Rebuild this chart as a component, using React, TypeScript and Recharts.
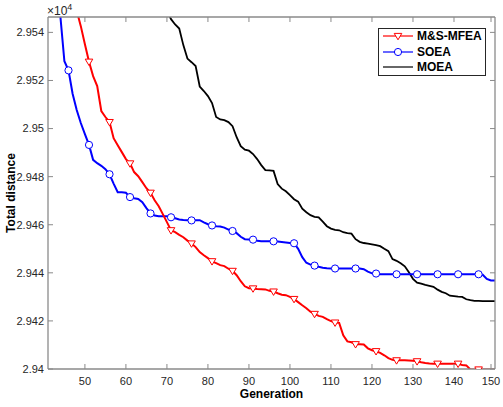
import React from 'react';
import { LineChart, Line, XAxis, YAxis, Legend } from 'recharts';

// generations on x, total distance on y (raw units, axis shows them /1e4)
const redStart = 47;
const redValues = [
  29556, 29549, 29542.6, 29535.1, 29527.8, 29521.8, 29517.7, 29507.3, 29504.8, 29502.7,
  29496, 29493.1, 29490.2, 29487.3, 29485.5, 29481.9, 29480.2, 29477.7, 29475.2, 29473.3,
  29470.2, 29467.7, 29464.4, 29461.1, 29457.7, 29456.9, 29455.8, 29454.8, 29453.4, 29452.2,
  29450.7, 29448.6, 29447.3, 29446.1, 29444.8, 29444.0, 29443.2, 29442.8, 29441.7, 29440.8,
  29439.0, 29436.5, 29434.4, 29433.6, 29433.5, 29433.3, 29433.2, 29433.1, 29432.5, 29432.2,
  29431.5, 29430.9, 29430.7, 29430.0, 29429.1, 29427.8, 29426.5, 29425.3, 29423.8, 29422.9,
  29422.1, 29421.7, 29420.7, 29419.9, 29419.3, 29419.2, 29414.0, 29411.5, 29411.1, 29410.3,
  29410.3, 29410.2, 29408.6, 29407.8, 29407.4, 29406.7, 29405.7, 29404.5, 29403.8, 29403.6,
  29403.6, 29403.6, 29403.5, 29403.4, 29403.2, 29402.8, 29402.5, 29402.3, 29402.2, 29402.2,
  29402.2, 29402.2, 29402.2, 29402.2, 29402.2, 29401.7, 29401.5, 29399.8, 29399.8, 29399.8,
  29399.8, 29399.8, 29399.8, 29399.8,
];

const blueStart = 43;
const blueValues = [
  29556, 29547, 29528, 29524.2, 29514.5, 29507.7, 29502.3, 29497.7, 29493.2, 29487.0,
  29485.6, 29484.5, 29483.1, 29481.0, 29477.1, 29473.5, 29473.5, 29473.3, 29471.5, 29471.0,
  29470.7, 29469.4, 29466.9, 29464.7, 29463.8, 29463.5, 29463.5, 29463.5, 29463.1, 29462.7,
  29462.2, 29462.0, 29461.9, 29461.8, 29461.9, 29461.9, 29461.0, 29460.2, 29459.7, 29459.4,
  29459.3, 29458.8, 29458.0, 29457.4, 29456.5, 29455.0, 29454.0, 29453.9, 29453.8, 29453.3,
  29453.1, 29453.1, 29453.1, 29453.1, 29453.0, 29452.8, 29452.6, 29452.4, 29452.3, 29450.0,
  29446.5, 29444.2, 29443.4, 29443.0, 29442.5, 29442.1, 29441.9, 29441.8, 29441.8, 29441.8,
  29441.8, 29441.8, 29441.8, 29441.8, 29441.8, 29441.5, 29440.5, 29439.8, 29439.7, 29439.4,
  29439.4, 29439.4, 29439.4, 29439.4, 29439.4, 29439.4, 29439.4, 29439.4, 29439.4, 29439.4,
  29439.4, 29439.4, 29439.4, 29439.4, 29439.4, 29439.4, 29439.4, 29439.4, 29439.4, 29439.4,
  29439.4, 29439.4, 29439.4, 29439.4, 29439.2, 29437.5, 29436.8, 29436.8,
];

const blackStart = 70;
const blackValues = [
  29549, 29545.5, 29543.3, 29541.6, 29534.7, 29529.1, 29527.6, 29526.0, 29517.5, 29515.6,
  29513.5, 29510.6, 29504.8, 29503.8, 29503.5, 29502.7, 29501.0, 29496.4, 29492.7, 29491.2,
  29490.8, 29489.4, 29487.3, 29484.8, 29482.7, 29482.6, 29482.4, 29476.9, 29475.0, 29473.9,
  29472.3, 29470.6, 29469.6, 29466.7, 29465.2, 29464.0, 29463.3, 29463.1, 29461.3, 29459.4,
  29458.4, 29457.9, 29457.7, 29456.9, 29456.5, 29456.3, 29454.0, 29452.9, 29452.4, 29452.1,
  29451.8, 29451.5, 29451.1, 29450.0, 29449.0, 29445.7, 29445.0, 29444.0, 29442.7, 29440.2,
  29437.5, 29435.9, 29435.5, 29435.0, 29434.6, 29434.2, 29433.0, 29432.1, 29431.5, 29430.5,
  29430.3, 29430.1, 29430.0, 29429.0, 29428.6, 29428.3, 29428.3, 29428.2, 29428.2, 29428.2,
  29428.2,
];

const genTicks = [50, 60, 70, 80, 90, 100, 110, 120, 130, 140, 150];
const distTicks = [29400, 29420, 29440, 29460, 29480, 29500, 29520, 29540];

const toPoints = (start: number, values: number[]) =>
  values.map((v, i) => ({ gen: start + i, value: v }));

const redData = toPoints(redStart, redValues);
const blueData = toPoints(blueStart, blueValues);
const blackData = toPoints(blackStart, blackValues);

const axisColor = '#8a8a8a';
const textColor = '#262626';
const font = '"Liberation Sans", Arial, sans-serif';

const fmtDist = (v: number) => String(parseFloat((v / 1e4).toFixed(3)));

const isMarker = (gen: number) => gen % 5 === 1;

const RedDot = (props: any) => {
  const { cx, cy, payload, index } = props;
  if (!isMarker(payload.gen)) return <g key={`r${index}`} />;
  const pts = `${cx - 3.8},${cy - 2.6} ${cx + 3.8},${cy - 2.6} ${cx},${cy + 3.8}`;
  return <polygon key={`r${index}`} points={pts} fill="#fff" stroke="#ff0000" strokeWidth={1} />;
};

const BlueDot = (props: any) => {
  const { cx, cy, payload, index } = props;
  if (!isMarker(payload.gen)) return <g key={`b${index}`} />;
  return <circle key={`b${index}`} cx={cx} cy={cy} r={3.6} fill="#fff" stroke="#0000ff" strokeWidth={1} />;
};

const BottomTick = (props: any) => {
  const { x, y, payload } = props;
  return (
    <g>
      <line x1={x} x2={x} y1={y} y2={y - 5} stroke={axisColor} />
      <text x={x} y={y + 15.5} textAnchor="middle" fontSize={11} fontFamily={font} fill={textColor}>
        {payload.value}
      </text>
    </g>
  );
};

const TopTick = (props: any) => {
  const { x, y } = props;
  return <line x1={x} x2={x} y1={y} y2={y + 5} stroke={axisColor} />;
};

const LeftTick = (props: any) => {
  const { x, y, payload } = props;
  const ax = x + 4;
  return (
    <g>
      <line x1={ax} x2={ax + 5} y1={y} y2={y} stroke={axisColor} />
      <text x={x} y={y} dy="0.35em" textAnchor="end" fontSize={11} fontFamily={font} fill={textColor}>
        {fmtDist(payload.value)}
      </text>
    </g>
  );
};

const RightTick = (props: any) => {
  const { x, y } = props;
  return <line x1={x} x2={x - 5} y1={y} y2={y} stroke={axisColor} />;
};

const LegendBox = () => (
  <svg width={108} height={48} style={{ display: 'block' }}>
    <rect x={0.5} y={0.5} width={107} height={47} fill="#fff" stroke="#262626" strokeWidth={1} />
    <line x1={5} x2={35} y1={8} y2={8} stroke="#ff0000" strokeWidth={1.2} />
    <polygon points="16.2,5.4 23.8,5.4 20,11.8" fill="#fff" stroke="#ff0000" />
    <text x={39} y={12.3} fontSize={12} fontWeight="bold" fontFamily={font} fill="#000">M&amp;S-MFEA</text>
    <line x1={5} x2={35} y1={24} y2={24} stroke="#0000ff" strokeWidth={1.2} />
    <circle cx={20} cy={24} r={3.6} fill="#fff" stroke="#0000ff" />
    <text x={39} y={28.3} fontSize={12} fontWeight="bold" fontFamily={font} fill="#000">SOEA</text>
    <line x1={5} x2={35} y1={39} y2={39} stroke="#000" strokeWidth={1.2} />
    <text x={39} y={43.3} fontSize={12} fontWeight="bold" fontFamily={font} fill="#000">MOEA</text>
  </svg>
);

const App: React.FC = () => {
  return (
    <div style={{ position: 'absolute', left: 0, top: 0, width: 503, height: 407, background: '#fff' }}>
      <LineChart width={503} height={407} data={redData} margin={{ top: 16, right: 7, bottom: 18, left: 8 }}>
        <XAxis
          dataKey="gen"
          type="number"
          domain={[41, 150]}
          ticks={genTicks}
          allowDataOverflow
          height={20}
          tickSize={0}
          tickMargin={0}
          tick={<BottomTick />}
          axisLine={{ stroke: axisColor, strokeWidth: 1.3 }}
          label={{
            content: ({ viewBox }: any) => (
              <text
                x={viewBox.x + viewBox.width / 2}
                y={398}
                textAnchor="middle"
                fontSize={12}
                fontWeight="bold"
                fontFamily={font}
                fill="#000"
              >
                Generation
              </text>
            ),
          }}
        />
        <XAxis
          xAxisId="top"
          orientation="top"
          dataKey="gen"
          type="number"
          domain={[41, 150]}
          ticks={genTicks}
          allowDataOverflow
          height={1}
          tickSize={0}
          tickMargin={0}
          tick={<TopTick />}
          axisLine={{ stroke: axisColor, strokeWidth: 1.3 }}
        />
        <YAxis
          type="number"
          domain={[29400, 29546.4]}
          ticks={distTicks}
          allowDataOverflow
          width={40}
          tickSize={0}
          tickMargin={4}
          tick={<LeftTick />}
          axisLine={{ stroke: axisColor, strokeWidth: 1.3 }}
          label={{
            content: () => {
              const cy = 193;
              return (
                <text
                  x={15}
                  y={cy}
                  transform={`rotate(-90 15 ${cy})`}
                  textAnchor="middle"
                  fontSize={12}
                  fontWeight="bold"
                  fontFamily={font}
                  fill="#000"
                >
                  Total distance
                </text>
              );
            },
          }}
        />
        <YAxis
          yAxisId="right"
          orientation="right"
          type="number"
          domain={[29400, 29546.4]}
          ticks={distTicks}
          allowDataOverflow
          width={1}
          tickSize={0}
          tickMargin={0}
          tick={<RightTick />}
          axisLine={{ stroke: axisColor, strokeWidth: 1.3 }}
        />
        <Legend
          layout="horizontal"
          verticalAlign="middle"
          align="center"
          content={() => <LegendBox />}
          wrapperStyle={{ position: 'absolute', left: 378, top: 28, width: 108, height: 48 }}
        />
        <Line
          data={blackData}
          dataKey="value"
          name="MOEA"
          type="linear"
          stroke="#000000"
          strokeWidth={1.8}
          dot={false}
          activeDot={false}
          isAnimationActive={false}
        />
        <Line
          data={blueData}
          dataKey="value"
          name="SOEA"
          type="linear"
          stroke="#0000ff"
          strokeWidth={2}
          dot={<BlueDot />}
          activeDot={false}
          isAnimationActive={false}
        />
        <Line
          data={redData}
          dataKey="value"
          name="M&S-MFEA"
          type="linear"
          stroke="#ff0000"
          strokeWidth={2}
          dot={<RedDot />}
          activeDot={false}
          isAnimationActive={false}
        />
      </LineChart>
      <svg width={40} height={18} style={{ position: 'absolute', left: 46, top: 0 }}>
        <text x={1} y={15} fontSize={12} fontFamily={font} fill={textColor}>
          ×10
          <tspan fontSize={9} dy={-5}>4</tspan>
        </text>
      </svg>
    </div>
  );
};

export default App;
